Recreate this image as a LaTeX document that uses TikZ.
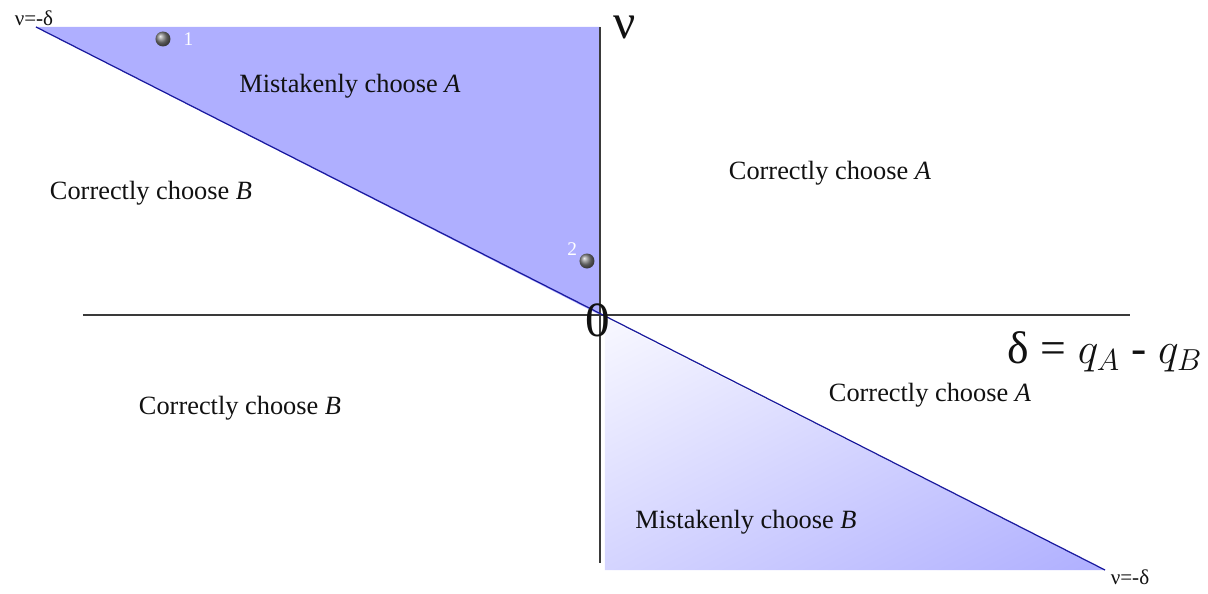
\documentclass[tikz,border=0pt]{standalone}
\usepackage{fontspec}
\setmainfont{Liberation Serif}
\usepackage{tikz}
\usetikzlibrary{calc,positioning,shadings}
\usepackage{xcolor}
\definecolor{rgInk}{HTML}{111111}
\definecolor{rgAxis}{HTML}{3A3A3A}
\definecolor{rgFill}{HTML}{AFAFFF}
\definecolor{rgPale}{HTML}{F8F8FF}
\definecolor{rgMid}{HTML}{D4D4FF}
\definecolor{rgLine}{HTML}{1A1A9E}
\tikzset{
  region/.style={font=\fontsize{15}{18}\selectfont, text=rgInk},
  bound/.style={font=\fontsize{12}{14}\selectfont, text=rgInk, inner sep=0pt},
  axlbl/.style={font=\fontsize{28}{30}\selectfont, text=rgInk, inner sep=0pt},
  pt/.style={circle, inner sep=0pt, minimum width=0.30cm, minimum height=0.24cm, shading=ball, ball color=gray},
  ptlbl/.style={font=\fontsize{11}{12}\selectfont, text=white, inner sep=0pt},
}
\begin{document}
\begin{tikzpicture}[x=2cm,y=2cm]
            \useasboundingbox (-6.00,3.15) rectangle (6.08,-2.78);
            \coordinate (o) at (0,0);
            \coordinate (tl) at (-5.64,2.88);
            \coordinate (tv) at (0,2.88);
            \coordinate (bv) at (0,-2.48);
            \coordinate (hl) at (-5.17,0);
            \coordinate (hr) at (5.30,0);
            \coordinate (br) at (5.05,-2.55);
            % shaded regions
            \fill[rgFill] (tl) -- (tv) -- (o) -- cycle;
            \shade[upper left=rgPale, upper right=rgMid, lower left=rgMid, lower right=rgFill] (0.05,-0.03) -- (0.05,-2.55) -- (br) -- cycle;
            % axes and boundary
            \draw[rgAxis, line width=0.6pt] (tv) -- (bv);
            \draw[rgAxis, line width=0.6pt] (hl) -- (hr);
            \draw[rgLine, line width=0.7pt] (tl) -- (br);
            % points
            \node[pt] (p1) at (-4.37,2.76) {};
            \node[ptlbl, right=0.25cm of p1] {1};
            \node[pt] (p2) at (-0.13,0.54) {};
            \node[ptlbl, above left=0.0cm and 0.08cm of p2] {2};
            % labels
            \node[bound] at (-5.66,2.97) {ν=-δ};
            \node[bound] at (5.30,-2.62) {ν=-δ};
            \node[axlbl] at (0.25,2.88) {ν};
            \node[axlbl] at (-0.02,-0.05) {0};
            \node[font=\fontsize{26}{28}\selectfont, text=rgInk] at (5.05,-0.37) {δ = $q_{A}$ - $q_{B}$};
            \node[region] at (-2.50,2.29) {Mistakenly choose \textit{A}};
            \node[region] at (2.30,1.42) {Correctly choose \textit{A}};
            \node[region] at (-4.49,1.22) {Correctly choose \textit{B}};
            \node[region] at (-3.60,-0.93) {Correctly choose \textit{B}};
            \node[region] at (3.30,-0.80) {Correctly choose \textit{A}};
            \node[region] at (1.46,-2.07) {Mistakenly choose \textit{B}};
        \end{tikzpicture}
\end{document}
